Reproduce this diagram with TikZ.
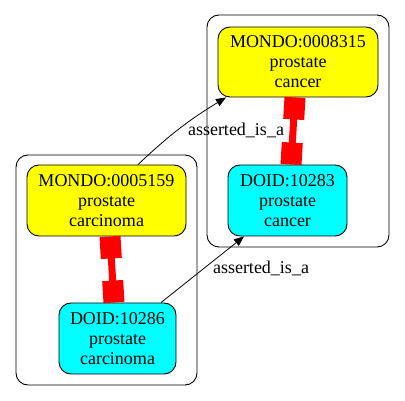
\documentclass[tikz,border=0pt]{standalone}
\usepackage{fontspec}
\setmainfont{Liberation Serif}
\usetikzlibrary{arrows.meta}
\definecolor{gvcyan}{RGB}{0,255,255}
\definecolor{gvyellow}{RGB}{255,255,0}
\definecolor{gvred}{RGB}{255,0,0}
\begin{document}
\begin{tikzpicture}[x=1pt,y=-1pt,
  term/.style={draw=black, line width=0.9pt, rounded corners=12pt, align=center, inner sep=0pt,
    font=\fontsize{18}{20}\selectfont},
  mondo/.style={term, fill=gvyellow},
  doid/.style={term, fill=gvcyan},
  cluster/.style={draw=black, line width=0.9pt, rounded corners=12pt},
  xref/.style={draw=gvred, line width=7pt, {Rectangle[length=22pt,width=21pt]}-{Rectangle[length=22pt,width=21pt]}},
  isa/.style={draw=black, line width=0.8pt, -{Triangle[length=10pt,width=8pt]}},
  elabel/.style={font=\fontsize{18}{20}\selectfont, inner sep=0pt}]
\useasboundingbox (0,0) rectangle (405,401);
\fill[white] (0,0) rectangle (405,401);
\draw[cluster] (16,155) rectangle (197,385);
\draw[cluster] (207,15) rectangle (389,247);
\node[mondo, minimum width=159pt, minimum height=71pt] (m1) at (106.5,200.5) {MONDO:0005159\\prostate\\carcinoma};
\node[doid, minimum width=117pt, minimum height=71pt] (d1) at (117.5,338.5) {DOID:10286\\prostate\\carcinoma};
\node[mondo, minimum width=160pt, minimum height=70pt] (m2) at (298,62) {MONDO:0008315\\prostate\\cancer};
\node[doid, minimum width=119pt, minimum height=71pt] (d2) at (287.5,200.5) {DOID:10283\\prostate\\cancer};
\draw[xref] (m1.south -| 110,0) -- (d1.north -| 114,0);
\draw[xref] (m2.south -| 295,0) -- (d2.north -| 291,0);
\draw[isa] (m1.north -| 138,0) to[bend left=6] (m2.south west -| 226,0);
\draw[isa] (d1.north -| 161,0) -- (d2.south west -| 244,0);
\node[elabel] (l1) at (236,130) {asserted\_is\_a};
\node[elabel] (l2) at (261,268) {asserted\_is\_a};
\end{tikzpicture}
\end{document}
